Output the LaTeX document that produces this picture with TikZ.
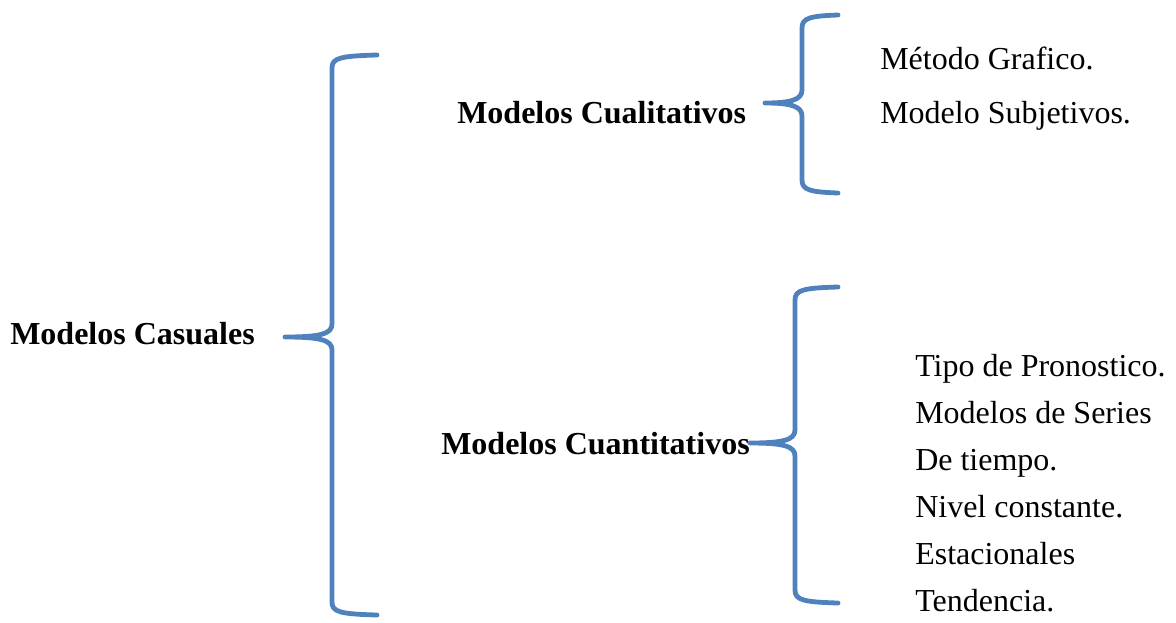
\documentclass[tikz,border=0pt]{standalone}
\usepackage{fontspec}
\setmainfont{Liberation Serif}
\definecolor{braceblue}{HTML}{4F81BD}
% Curly bracket: tip (#1,#2), spine at x=#3, ends at y=#4 and y=#5, reaching right to x=#6
\newcommand{\curlybracket}[6]{%
  \draw[bracket] (#6,#4) .. controls ({#3+8},{#4+1}) and (#3,{#4+3}) .. (#3,{#4+13})
    -- (#3,{#2-13}) .. controls (#3,{#2-3}) and ({#3-12},#2) .. (#1,#2)
    .. controls ({#3-12},#2) and (#3,{#2+3}) .. (#3,{#2+13})
    -- (#3,{#5-13}) .. controls (#3,{#5-3}) and ({#3+8},{#5-1}) .. (#6,#5);}
\begin{document}
\begin{tikzpicture}[x=0.75pt,y=-0.75pt,
  bracket/.style={draw=braceblue,line width=3.6pt,line cap=round,line join=round},
  lbl/.style={inner sep=0pt,anchor=base west,font=\fontsize{24}{28}\selectfont},
  head/.style={lbl,font=\fontsize{24}{28}\selectfont\bfseries}]
\useasboundingbox (0,0) rectangle (1176,622);
% headings
\node[head] (casuales) at (10,344) {Modelos Casuales};
\node[head] (cualit) at (457,123) {Modelos Cualitativos};
\node[head] (cuantit) at (441,454) {Modelos Cuantitativos};
% qualitative items
\node[lbl] (metodo) at (880,69) {Método Grafico.};
\node[lbl] (subjet) at (880,123) {Modelo Subjetivos.};
% quantitative items
\node[lbl] (tipo) at (915,376) {Tipo de Pronostico.};
\node[lbl] (series) at (915,423) {Modelos de Series};
\node[lbl] (tiempo) at (915,470) {De tiempo.};
\node[lbl] (nivel) at (915,517) {Nivel constante.};
\node[lbl] (estac) at (915,564) {Estacionales};
\node[lbl] (tend) at (915,611) {Tendencia.};
% brackets
\curlybracket{285}{337}{332}{55}{615}{377}
\curlybracket{765}{103}{802}{15}{193}{838}
\curlybracket{750}{443}{795}{287}{603}{838}
\end{tikzpicture}
\end{document}
